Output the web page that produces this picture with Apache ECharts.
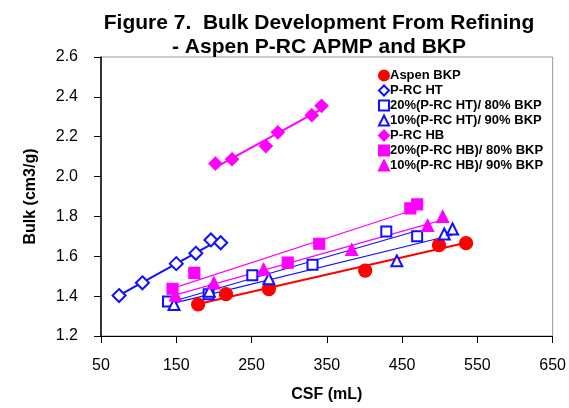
<!DOCTYPE html>
<html><head><meta charset="utf-8">
<script src="https://cdn.jsdelivr.net/npm/echarts@6/dist/echarts.min.js"></script>
<style>html,body{margin:0;padding:0;background:#fff}#c{width:569px;height:408px}</style>
</head><body><div id="c"></div>
<script>
// Data
const aspenBKP_csf  = [179, 216, 273, 401, 499, 535];
const aspenBKP_bulk = [1.358, 1.41, 1.435, 1.528, 1.656, 1.666];
const prcHT_csf  = [74, 105, 150, 176, 196, 209];
const prcHT_bulk = [1.403, 1.467, 1.563, 1.615, 1.682, 1.668];
const ht20_csf  = [139, 193, 251, 331, 429, 470];
const ht20_bulk = [1.373, 1.41, 1.505, 1.557, 1.725, 1.70];
const ht10_csf  = [147, 194, 273, 443, 506, 517];
const ht10_bulk = [1.358, 1.425, 1.487, 1.577, 1.712, 1.737];
const prcHB_csf  = [202, 224, 269, 285, 330, 343];
const prcHB_bulk = [2.065, 2.087, 2.153, 2.222, 2.308, 2.355];
const hb20_csf  = [145, 174, 298, 340, 461, 470];
const hb20_bulk = [1.437, 1.517, 1.568, 1.663, 1.84, 1.86];
const hb10_csf  = [149, 200, 266, 383, 484, 504];
const hb10_bulk = [1.405, 1.467, 1.535, 1.634, 1.755, 1.80];
const xTicks = [50, 150, 250, 350, 450, 550, 650];
const yTicks = [1.2, 1.4, 1.6, 1.8, 2.0, 2.2, 2.4, 2.6];

const FONT = '"Liberation Sans", Arial, sans-serif';
const RED = '#ff0000', BLUE = '#1010ff', MAG = '#ff00ff';

function pts(xs, ys){ return xs.map((x,i)=>[x, ys[i]]); }
function trend(xs, ys){
  const n = xs.length;
  const mx = xs.reduce((a,b)=>a+b,0)/n, my = ys.reduce((a,b)=>a+b,0)/n;
  let sxy=0, sxx=0;
  for(let i=0;i<n;i++){ sxy+=(xs[i]-mx)*(ys[i]-my); sxx+=(xs[i]-mx)*(xs[i]-mx); }
  const b = sxy/sxx, a = my-b*mx;
  const x0 = Math.min(...xs), x1 = Math.max(...xs);
  return [[x0, a+b*x0],[x1, a+b*x1]];
}

const groups = [
  {name:'Aspen BKP', xs:aspenBKP_csf, ys:aspenBKP_bulk, color:RED, symbol:'circle', size:13, lw:2},
  {name:'P-RC HT', xs:prcHT_csf, ys:prcHT_bulk, color:BLUE, symbol:'emptyDiamond', size:13, lw:2},
  {name:'20%(P-RC HT)/ 80% BKP', xs:ht20_csf, ys:ht20_bulk, color:BLUE, symbol:'emptyRect', size:10, lw:1.2},
  {name:'10%(P-RC HT)/ 90% BKP', xs:ht10_csf, ys:ht10_bulk, color:BLUE, symbol:'emptyTriangle', size:11, lw:1.2},
  {name:'P-RC HB', xs:prcHB_csf, ys:prcHB_bulk, color:MAG, symbol:'diamond', size:13, lw:2},
  {name:'20%(P-RC HB)/ 80% BKP', xs:hb20_csf, ys:hb20_bulk, color:MAG, symbol:'rect', size:11, lw:1.2},
  {name:'10%(P-RC HB)/ 90% BKP', xs:hb10_csf, ys:hb10_bulk, color:MAG, symbol:'triangle', size:12, lw:1.2}
];

const series = [];
groups.forEach(g=>{
  series.push({type:'line', name:g.name+' trend', data:trend(g.xs,g.ys), showSymbol:false, silent:true,
    lineStyle:{color:g.color, width:g.lw}, z:2});
});
groups.forEach(g=>{
  series.push({type:'scatter', name:g.name, data:pts(g.xs,g.ys), symbol:g.symbol, symbolSize:g.size,
    itemStyle:{color:g.color, borderColor:g.color, borderWidth:1.2, opacity:1}, z:3});
});

const chart = echarts.init(document.getElementById('c'), null, {renderer:'canvas'});
chart.setOption({
  animation:false,
  backgroundColor:'#fff',
  title:{text:'Figure 7.  Bulk Development From Refining\n- Aspen P-RC APMP and BKP', left:314, textAlign:'center', top:6,
    textStyle:{fontFamily:FONT, fontWeight:'bold', fontSize:21, lineHeight:24, color:'#000'}},
  grid:{left:101, right:11, top:57, bottom:71, show:true, borderColor:'#999', borderWidth:1, backgroundColor:'transparent'},
  legend:{orient:'vertical', left:378, top:69, itemGap:2, itemWidth:10, itemHeight:10, padding:0,
    data:groups.map(g=>g.name), textStyle:{fontFamily:FONT, fontWeight:'bold', fontSize:13, color:'#000', padding:[0,0,0,-4]},
    selectedMode:false},
  xAxis:{type:'value', min:xTicks[0], max:xTicks[xTicks.length-1], interval:100,
    name:'CSF (mL)', nameLocation:'middle', nameGap:51,
    nameTextStyle:{fontFamily:FONT, fontWeight:'bold', fontSize:16, color:'#000'},
    axisLine:{lineStyle:{color:'#000', width:1}}, axisTick:{show:true, length:7, inside:false, lineStyle:{color:'#000'}},
    axisLabel:{fontFamily:FONT, fontSize:16, color:'#000', margin:22}, splitLine:{show:false}},
  yAxis:{type:'value', min:yTicks[0], max:yTicks[yTicks.length-1], interval:0.2,
    name:'Bulk (cm3/g)', nameLocation:'middle', nameGap:62, nameRotate:90,
    nameTextStyle:{fontFamily:FONT, fontWeight:'bold', fontSize:16, color:'#000'},
    axisLine:{show:true, lineStyle:{color:'#000', width:1.5}}, axisTick:{show:true, length:7, lineStyle:{color:'#000'}},
    axisLabel:{fontFamily:FONT, fontSize:16, color:'#000', margin:23, formatter:v=>v.toFixed(1)}, splitLine:{show:false}},
  series:series
});
</script></body></html>
